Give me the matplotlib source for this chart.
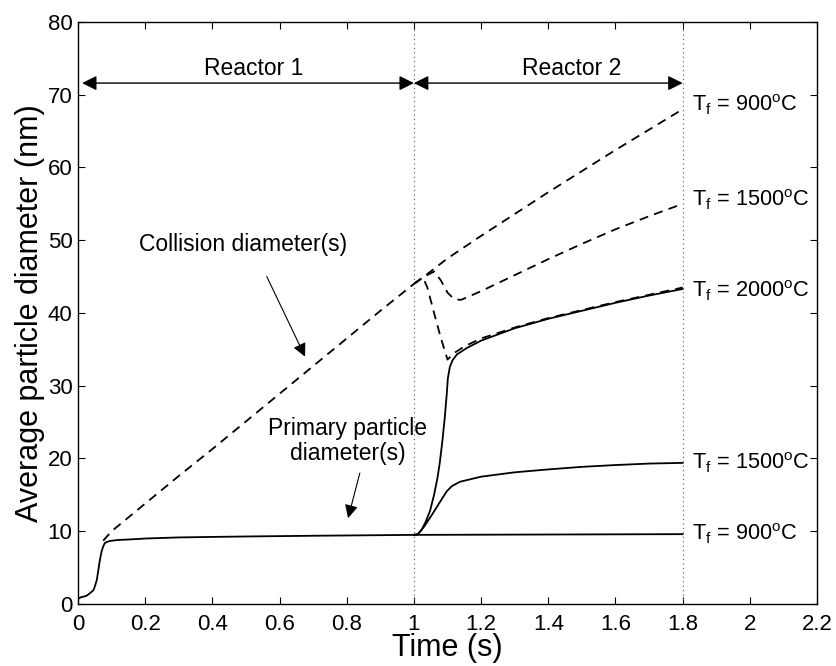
import matplotlib
matplotlib.use("Agg")
import matplotlib.pyplot as plt

plt.rcParams['font.family'] = ['Liberation Sans', 'DejaVu Sans']
plt.rcParams['mathtext.fontset'] = 'custom'
plt.rcParams['mathtext.rm'] = 'Liberation Sans'
plt.rcParams['mathtext.it'] = 'Liberation Sans:italic'

# ---- data ----
# Reactor 1 primary particle diameter
t_r1 = [0, 0.01, 0.02, 0.026, 0.036, 0.046, 0.05, 0.056, 0.06, 0.065, 0.07, 0.075,
        0.08, 0.09, 0.1, 0.12, 0.165, 0.2, 0.3, 0.4, 0.5, 0.6, 0.7, 0.8, 0.9, 1.0]
d_r1 = [0.7, 0.95, 1.05, 1.15, 1.5, 1.9, 2.4, 3.3, 4.5, 6.0, 7.2, 7.9,
        8.4, 8.6, 8.7, 8.8, 8.9, 9.0, 9.15, 9.22, 9.28, 9.33, 9.38, 9.42, 9.46, 9.5]

# Reactor 1 collision diameter
t_c1 = [0.075, 0.1, 0.2, 0.3, 0.4, 0.5, 0.6, 0.7, 0.8, 0.9, 1.0]
d_c1 = [8.7, 10.0, 13.8, 17.6, 21.3, 25.1, 28.9, 32.7, 36.5, 40.3, 44.0]

# Reactor 2 collision diameters
t_c900 = [1.0, 1.027, 1.1, 1.2, 1.3, 1.4, 1.5, 1.6, 1.7, 1.8]
d_c900 = [44.0, 44.9, 47.5, 50.6, 53.6, 56.6, 59.5, 62.4, 65.2, 68.0]

t_c1500 = [1.0, 1.027, 1.06, 1.08, 1.1, 1.12, 1.14, 1.2, 1.3, 1.4, 1.5, 1.6, 1.7, 1.8]
d_c1500 = [44.0, 44.9, 45.7, 44.5, 42.8, 41.9, 41.8, 43.0, 45.2, 47.4, 49.5, 51.5, 53.3, 55.0]

t_c2000 = [1.0, 1.027, 1.04, 1.06, 1.08, 1.1, 1.12, 1.15, 1.2, 1.3, 1.4, 1.5, 1.6, 1.7, 1.8]
d_c2000 = [44.0, 44.9, 43.5, 40.0, 36.6, 33.6, 34.5, 35.4, 36.5, 38.0, 39.3, 40.4, 41.5, 42.5, 43.5]

# Reactor 2 primary particle diameters
t_p900 = [1.0, 1.4, 1.8]
d_p900 = [9.5, 9.55, 9.6]

t_p1500 = [1.0, 1.012, 1.03, 1.057, 1.08, 1.098, 1.113, 1.137, 1.2, 1.3, 1.4, 1.5, 1.6, 1.7, 1.8]
d_p1500 = [9.5, 9.6, 10.6, 12.5, 14.2, 15.5, 16.2, 16.8, 17.5, 18.1, 18.5, 18.85, 19.1, 19.3, 19.4]

t_p2000 = [1.0, 1.012, 1.023, 1.035, 1.048, 1.06, 1.07, 1.077, 1.085, 1.092, 1.098, 1.101,
           1.107, 1.115, 1.128, 1.158, 1.2, 1.3, 1.4, 1.5, 1.6, 1.7, 1.8]
d_p2000 = [9.5, 9.6, 10.2, 11.3, 12.8, 15.0, 17.3, 19.4, 22.5, 25.7, 29.0, 31.0,
           32.6, 33.5, 34.3, 35.2, 36.2, 37.9, 39.2, 40.3, 41.4, 42.4, 43.3]

end_labels = ['T$_\\mathrm{f}$ = 900$^\\mathrm{o}$C', 'T$_\\mathrm{f}$ = 1500$^\\mathrm{o}$C',
              'T$_\\mathrm{f}$ = 2000$^\\mathrm{o}$C', 'T$_\\mathrm{f}$ = 1500$^\\mathrm{o}$C',
              'T$_\\mathrm{f}$ = 900$^\\mathrm{o}$C']
end_label_y = [68.6, 55.6, 43.0, 19.4, 9.6]

xticks = [0, 0.2, 0.4, 0.6, 0.8, 1.0, 1.2, 1.4, 1.6, 1.8, 2.0, 2.2]
xticklabels = ['0', '0.2', '0.4', '0.6', '0.8', '1', '1.2', '1.4', '1.6', '1.8', '2', '2.2']
yticks = [0, 10, 20, 30, 40, 50, 60, 70, 80]

# ---- figure ----
fig = plt.figure(figsize=(8.37, 6.66), dpi=100)
ax = fig.add_axes([0.0932, 0.0931, 0.8829, 0.8739])

lw = 1.3
dash = (5, 3.5)
ax.plot(t_r1, d_r1, color='black', lw=lw)
ax.plot(t_c1, d_c1, color='black', lw=lw, dashes=dash)
for t, d in [(t_c900, d_c900), (t_c1500, d_c1500), (t_c2000, d_c2000)]:
    ax.plot(t, d, color='black', lw=lw, dashes=dash)
for t, d in [(t_p900, d_p900), (t_p1500, d_p1500), (t_p2000, d_p2000)]:
    ax.plot(t, d, color='black', lw=lw)

# reactor boundaries
for xv in [1.0, 1.8]:
    ax.axvline(xv, color='#555555', lw=0.8, linestyle=(0, (1, 3)))

# reactor arrows
arr = dict(arrowstyle='<|-|>', color='black', lw=1.0, mutation_scale=22,
           shrinkA=0, shrinkB=0)
ax.annotate('', xy=(0.012, 71.6), xytext=(1.0, 71.6), arrowprops=arr)
ax.annotate('', xy=(1.0, 71.6), xytext=(1.8, 71.6), arrowprops=arr)
ax.text(0.524, 73.6, 'Reactor 1', ha='center', va='center', fontsize=16.5)
ax.text(1.47, 73.6, 'Reactor 2', ha='center', va='center', fontsize=16.5)

# end labels
for lab, yv in zip(end_labels, end_label_y):
    ax.text(1.827, yv, lab, ha='left', va='center', fontsize=15.7)

# annotations
arr1 = dict(arrowstyle='-|>', color='black', lw=0.8, mutation_scale=20,
            shrinkA=0, shrinkB=0)
ax.text(0.49, 49.4, 'Collision diameter(s)', ha='center', va='center', fontsize=16.5)
ax.annotate('', xy=(0.676, 34.0), xytext=(0.562, 45.0), arrowprops=arr1)
ax.text(0.802, 22.4, 'Primary particle\ndiameter(s)', ha='center', va='center',
        fontsize=16.5, linespacing=1.1)
ax.annotate('', xy=(0.804, 11.8), xytext=(0.839, 18.0), arrowprops=arr1)

ax.set_xlim(0, 2.2)
ax.set_ylim(0, 80)
ax.set_xticks(xticks)
ax.set_xticklabels(xticklabels)
ax.set_yticks(yticks)
ax.tick_params(direction='in', top=True, right=True, length=5, width=0.8,
               labelsize=16)
ax.tick_params(axis='x', pad=7)
ax.tick_params(axis='y', pad=4)
for s in ax.spines.values():
    s.set_linewidth(1.0)
ax.set_xlabel('Time (s)', fontsize=22, labelpad=-1)
ax.set_ylabel('Average particle diameter (nm)', fontsize=22, labelpad=2)

fig.savefig('out.png', dpi=100)
